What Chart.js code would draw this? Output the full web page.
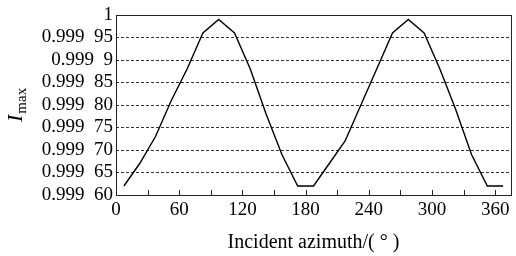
<!DOCTYPE html>
<html lang="en">
<head>
    <meta charset="UTF-8">
    <title>Imax vs incident azimuth</title>
    <script src="https://cdn.jsdelivr.net/npm/chart.js"></script>
    <style>
        body {
            margin: 0;
            background: #fff;
        }
        #wrap {
            width: 516px;
            height: 256px;
        }
    </style>
</head>
<body>
    <div id="wrap">
        <canvas id="chart" width="516" height="256"></canvas>
    </div>

    <script>
        // azimuth (deg) and Imax values
        const azimuth = [7.5, 22.5, 37.5, 52.5, 67.5, 82.5, 97.5, 112.5, 127.5, 142.5, 157.5, 172.5,
                         187.5, 202.5, 217.5, 232.5, 247.5, 262.5, 277.5, 292.5, 307.5, 322.5, 337.5, 352.5, 367.5];
        const imax = [0.99962, 0.99967, 0.99973, 0.99981, 0.99988, 0.99996, 0.99999, 0.99996, 0.99988, 0.99978, 0.99969, 0.99962,
                      0.99962, 0.99967, 0.99972, 0.99980, 0.99988, 0.99996, 0.99999, 0.99996, 0.99988, 0.99979, 0.99969, 0.99962, 0.99962];

        // y tick labels, bottom to top
        const yTickLabels = ['0.999\u200260', '0.999\u200265', '0.999\u200270', '0.999\u200275', '0.999\u200280',
                             '0.999\u200285', '0.999\u20029', '0.999\u200295', '1'];
        const xTickLabels = ['0', '60', '120', '180', '240', '300', '360'];

        const serif = '"Liberation Serif", "Times New Roman", serif';

        // frame, inner x ticks and the I_max title
        const extras = {
            id: 'extras',
            afterDraw(chart) {
                const ctx = chart.ctx;
                const a = chart.chartArea;
                const xs = chart.scales.x;
                ctx.save();
                ctx.strokeStyle = '#222';
                ctx.lineWidth = 1;
                ctx.strokeRect(Math.round(a.left) + 0.5, Math.round(a.top) + 0.5,
                    Math.round(a.right - a.left), Math.round(a.bottom - a.top));
                ctx.beginPath();
                xs.ticks.forEach(t => {
                    const px = Math.round(xs.getPixelForValue(t.value)) + 0.5;
                    ctx.moveTo(px, a.bottom);
                    ctx.lineTo(px, a.bottom - 5);
                });
                ctx.stroke();

                // rotated y title: italic I with subscript max
                ctx.translate(22, 122);
                ctx.rotate(-Math.PI / 2);
                ctx.fillStyle = '#000';
                ctx.textBaseline = 'alphabetic';
                ctx.font = 'italic 22px ' + serif;
                ctx.fillText('I', 0, 0);
                const w = ctx.measureText('I').width;
                ctx.font = '15px ' + serif;
                ctx.fillText('max', w + 1, 4);
                ctx.restore();
            }
        };

        new Chart(document.getElementById('chart'), {
            type: 'line',
            data: {
                datasets: [{
                    data: azimuth.map((a, i) => ({ x: a, y: imax[i] })),
                    borderColor: '#000',
                    borderWidth: 1.4,
                    pointRadius: 0,
                    tension: 0,
                    fill: false
                }]
            },
            options: {
                responsive: false,
                animation: false,
                layout: {
                    padding: { top: 15, right: 5, left: 0, bottom: 0 }
                },
                plugins: {
                    legend: { display: false },
                    tooltip: { enabled: false }
                },
                scales: {
                    x: {
                        type: 'linear',
                        min: 0,
                        max: 375,
                        afterFit: s => { s.height = 61; },
                        grid: { display: false, drawTicks: false },
                        border: { display: false },
                        ticks: {
                            stepSize: 30,
                            includeBounds: false,
                            autoSkip: false,
                            maxRotation: 0,
                            padding: 4,
                            color: '#000',
                            font: { family: serif, size: 19 },
                            callback: v => (v % 60 === 0 && v <= 360) ? xTickLabels[v / 60] : ''
                        },
                        title: {
                            display: true,
                            text: 'Incident azimuth/( \u00b0 )',
                            color: '#000',
                            font: { family: serif, size: 20 },
                            padding: { top: 4, bottom: 1 }
                        }
                    },
                    y: {
                        min: 0.9996,
                        max: 1.0,
                        afterFit: s => { s.width = 116; },
                        grid: {
                            color: '#333',
                            lineWidth: 1,
                            drawTicks: false
                        },
                        border: { display: false, dash: [3, 2] },
                        ticks: {
                            stepSize: 0.00005,
                            autoSkip: false,
                            padding: 3,
                            color: '#000',
                            font: { family: serif, size: 19 },
                            callback: (v, i) => yTickLabels[i]
                        }
                    }
                }
            },
            plugins: [extras]
        });
    </script>
</body>
</html>
